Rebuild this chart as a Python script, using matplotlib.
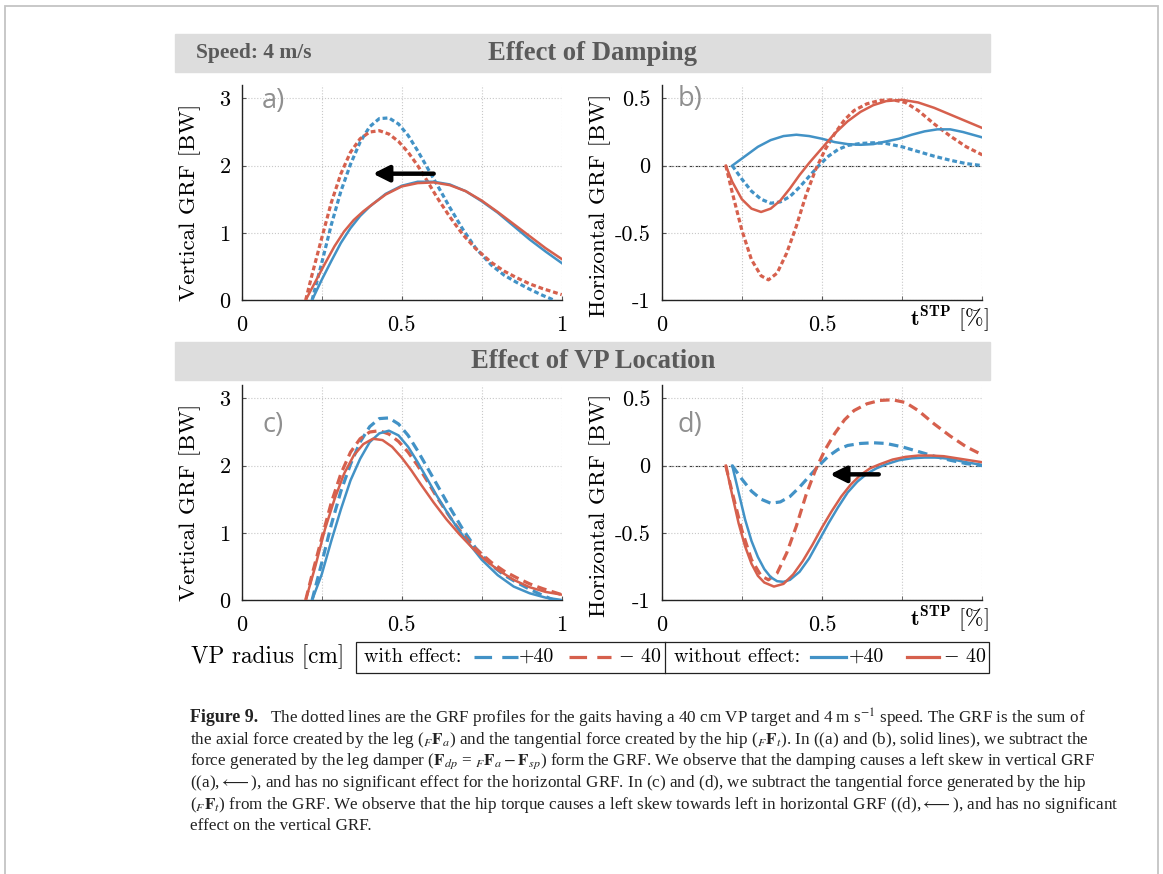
import numpy as np
import matplotlib
matplotlib.use('Agg')
import matplotlib.pyplot as plt
from matplotlib.lines import Line2D
from matplotlib.patches import Rectangle

# ---------------- data ----------------
# Vertical GRF, with effect (dotted/dashed)
vert_with_p40_x = [0.22, 0.25, 0.28, 0.31, 0.34, 0.37, 0.40, 0.43, 0.46, 0.49, 0.52, 0.55, 0.58, 0.61, 0.65, 0.69, 0.73, 0.78, 0.82, 0.86, 0.90, 0.94, 0.975]
vert_with_p40_y = [0.0, 0.55, 1.12, 1.62, 2.02, 2.35, 2.58, 2.70, 2.71, 2.62, 2.45, 2.22, 1.97, 1.72, 1.38, 1.06, 0.78, 0.52, 0.37, 0.26, 0.16, 0.07, 0.0]
vert_with_m40_x = [0.20, 0.22, 0.25, 0.28, 0.31, 0.34, 0.37, 0.40, 0.43, 0.46, 0.49, 0.52, 0.55, 0.58, 0.61, 0.65, 0.69, 0.73, 0.78, 0.82, 0.86, 0.90, 0.94, 1.0]
vert_with_m40_y = [0.0, 0.38, 0.92, 1.45, 1.88, 2.2, 2.4, 2.5, 2.52, 2.47, 2.36, 2.2, 2.0, 1.77, 1.53, 1.24, 0.98, 0.77, 0.56, 0.43, 0.33, 0.24, 0.17, 0.08]
# Vertical GRF, damping removed (panel a, solid)
vert_nodamp_p40_x = [0.22, 0.25, 0.28, 0.31, 0.34, 0.37, 0.40, 0.45, 0.50, 0.55, 0.60, 0.65, 0.70, 0.75, 0.80, 0.85, 0.90, 0.95, 1.0]
vert_nodamp_p40_y = [0.0, 0.30, 0.58, 0.85, 1.07, 1.25, 1.39, 1.58, 1.70, 1.76, 1.76, 1.72, 1.62, 1.47, 1.30, 1.10, 0.90, 0.72, 0.55]
vert_nodamp_m40_x = [0.20, 0.23, 0.26, 0.29, 0.32, 0.35, 0.38, 0.41, 0.45, 0.50, 0.55, 0.60, 0.65, 0.70, 0.75, 0.80, 0.85, 0.90, 0.95, 1.0]
vert_nodamp_m40_y = [0.0, 0.27, 0.54, 0.80, 1.02, 1.19, 1.32, 1.43, 1.57, 1.69, 1.74, 1.75, 1.71, 1.62, 1.48, 1.31, 1.13, 0.95, 0.77, 0.61]
# Vertical GRF, hip force removed (panel c, solid)
vert_nohip_p40_x = [0.22, 0.25, 0.28, 0.31, 0.34, 0.37, 0.40, 0.43, 0.46, 0.49, 0.52, 0.55, 0.58, 0.61, 0.64, 0.67, 0.70, 0.75, 0.80, 0.85, 0.90, 0.95, 1.0]
vert_nohip_p40_y = [0.0, 0.38, 0.88, 1.35, 1.78, 2.10, 2.35, 2.48, 2.52, 2.45, 2.28, 2.05, 1.80, 1.55, 1.32, 1.10, 0.90, 0.60, 0.37, 0.20, 0.10, 0.035, 0.0]
vert_nohip_m40_x = [0.20, 0.23, 0.26, 0.29, 0.32, 0.35, 0.38, 0.41, 0.44, 0.47, 0.50, 0.53, 0.56, 0.60, 0.64, 0.68, 0.72, 0.76, 0.80, 0.85, 0.90, 0.95, 1.0]
vert_nohip_m40_y = [0.0, 0.50, 1.05, 1.50, 1.88, 2.15, 2.32, 2.40, 2.38, 2.28, 2.12, 1.93, 1.72, 1.45, 1.20, 0.98, 0.78, 0.60, 0.45, 0.30, 0.19, 0.12, 0.08]

# Horizontal GRF, with effect
horz_with_p40_x = [0.22, 0.25, 0.28, 0.31, 0.34, 0.37, 0.40, 0.43, 0.46, 0.49, 0.52, 0.55, 0.58, 0.62, 0.66, 0.70, 0.75, 0.80, 0.85, 0.90, 0.95, 1.0]
horz_with_p40_y = [0.0, -0.10, -0.19, -0.25, -0.28, -0.27, -0.23, -0.16, -0.08, 0.0, 0.07, 0.12, 0.15, 0.165, 0.17, 0.165, 0.14, 0.105, 0.07, 0.04, 0.015, 0.0]
horz_with_m40_x = [0.20, 0.22, 0.25, 0.28, 0.31, 0.333, 0.36, 0.39, 0.42, 0.45, 0.48, 0.51, 0.54, 0.57, 0.60, 0.64, 0.68, 0.72, 0.76, 0.80, 0.85, 0.90, 0.95, 1.0]
horz_with_m40_y = [0.0, -0.20, -0.48, -0.70, -0.82, -0.85, -0.80, -0.65, -0.45, -0.22, -0.03, 0.12, 0.24, 0.34, 0.41, 0.46, 0.485, 0.49, 0.47, 0.41, 0.31, 0.22, 0.14, 0.08]
# Horizontal GRF, damping removed (panel b, solid)
horz_nodamp_p40_x = [0.22, 0.26, 0.30, 0.34, 0.38, 0.42, 0.46, 0.50, 0.54, 0.58, 0.62, 0.66, 0.70, 0.74, 0.78, 0.82, 0.86, 0.90, 0.94, 1.0]
horz_nodamp_p40_y = [0.0, 0.07, 0.14, 0.19, 0.22, 0.23, 0.22, 0.20, 0.175, 0.16, 0.155, 0.16, 0.18, 0.20, 0.23, 0.255, 0.27, 0.27, 0.25, 0.21]
horz_nodamp_m40_x = [0.20, 0.22, 0.25, 0.28, 0.31, 0.34, 0.37, 0.40, 0.43, 0.46, 0.50, 0.54, 0.58, 0.62, 0.66, 0.70, 0.75, 0.80, 0.85, 0.90, 0.95, 1.0]
horz_nodamp_m40_y = [0.0, -0.12, -0.25, -0.32, -0.345, -0.32, -0.26, -0.17, -0.07, 0.02, 0.13, 0.24, 0.33, 0.40, 0.45, 0.48, 0.49, 0.47, 0.43, 0.38, 0.33, 0.28]
# Horizontal GRF, hip force removed (panel d, solid)
horz_nohip_p40_x = [0.22, 0.24, 0.26, 0.28, 0.30, 0.32, 0.34, 0.36, 0.38, 0.40, 0.43, 0.46, 0.49, 0.52, 0.55, 0.58, 0.61, 0.64, 0.67, 0.70, 0.74, 0.78, 0.82, 0.86, 0.90, 0.95, 1.0]
horz_nohip_p40_y = [0.0, -0.20, -0.40, -0.56, -0.68, -0.77, -0.83, -0.86, -0.865, -0.85, -0.79, -0.69, -0.56, -0.43, -0.31, -0.20, -0.12, -0.06, -0.02, 0.01, 0.04, 0.055, 0.06, 0.06, 0.05, 0.025, 0.005]
horz_nohip_m40_x = [0.20, 0.22, 0.24, 0.26, 0.28, 0.30, 0.32, 0.35, 0.38, 0.41, 0.44, 0.47, 0.50, 0.53, 0.56, 0.59, 0.62, 0.65, 0.68, 0.72, 0.76, 0.80, 0.84, 0.88, 0.92, 0.96, 1.0]
horz_nohip_m40_y = [0.0, -0.22, -0.43, -0.60, -0.73, -0.82, -0.87, -0.90, -0.88, -0.81, -0.71, -0.59, -0.46, -0.34, -0.23, -0.14, -0.07, -0.02, 0.01, 0.045, 0.065, 0.075, 0.075, 0.07, 0.055, 0.04, 0.025]

# arrows (start x, end x, y)
arrow_a = (0.60, 0.41, 1.88)
arrow_d = (0.677, 0.525, -0.065)

vert_ticks = [0, 1, 2, 3]
vert_ticklabels = ['0', '1', '2', '3']
horz_ticks = [-1, -0.5, 0, 0.5]
horz_ticklabels = ['-1', '-0.5', '0', '0.5']
x_ticks = [0, 0.5, 1]
x_ticklabels_left = ['0', '0.5', '1']
x_ticklabels_right = ['0', '0.5', '']

# ---------------- style ----------------
W, H = 1163, 874
BLUE = '#4292c6'
RED = '#d6604d'
plt.rcParams['font.family'] = 'cmr10'
plt.rcParams['mathtext.fontset'] = 'cm'
plt.rcParams['axes.unicode_minus'] = False

fig = plt.figure(figsize=(W / 100, H / 100), dpi=100)


def rect(l, t, r, b):
    return [l / W, 1 - b / H, (r - l) / W, (b - t) / H]


def fxy(x, y):
    return (x / W, 1 - y / H)


# outer frame
fig.add_artist(Rectangle(fxy(5, 890), 1153 / W, 884 / H, transform=fig.transFigure,
                         fill=False, edgecolor='#c4c4c4', lw=1.3))

# header bars
for (t, b) in [(34, 72), (342, 380)]:
    fig.add_artist(Rectangle(fxy(175, b), (990 - 175) / W, (b - t) / H,
                             transform=fig.transFigure, color='#dddddd', zorder=0))
fig.text(*fxy(196, 53), 'Speed: 4 m/s', ha='left', va='center', fontsize=15.5,
         fontweight='bold', family='Liberation Serif', color='#5a5a5a')
fig.text(*fxy(593, 53), 'Effect of Damping', ha='center', va='center', fontsize=19.2,
         fontweight='bold', family='Liberation Serif', color='#5a5a5a')
fig.text(*fxy(593, 362), 'Effect of VP Location', ha='center', va='center', fontsize=19.2,
         fontweight='bold', family='Liberation Serif', color='#5a5a5a')

DOT = (0, (1.5, 0.9))
DASH = (0, (3.0, 1.7))
YLFS = 16.6


def setup(ax, vertical, letter, letter_xy, right):
    for s in ['top', 'right']:
        ax.spines[s].set_visible(False)
    for s in ['left', 'bottom']:
        ax.spines[s].set_color('#222222')
        ax.spines[s].set_linewidth(1.0)
    ax.set_xlim(0, 1)
    ax.set_xticks(x_ticks)
    ax.set_xticks([0.25, 0.75], minor=True)
    ax.set_xticklabels(x_ticklabels_right if right else x_ticklabels_left)
    if vertical:
        ax.set_ylim(0, 3.2)
        ax.set_yticks(vert_ticks)
        ax.set_yticklabels(vert_ticklabels)
        ax.set_ylabel('Vertical GRF [BW]', fontsize=YLFS)
        ax.yaxis.set_label_coords(-0.1616, 0.456)
    else:
        ax.set_ylim(-1, 0.6)
        ax.set_yticks(horz_ticks)
        ax.set_yticklabels(horz_ticklabels)
        ax.set_ylabel('Horizontal GRF [BW]', fontsize=YLFS)
        ax.yaxis.set_label_coords(-0.192, 0.442)
        ax.axhline(0, color='#333333', lw=0.8, ls=(0, (4, 2)), zorder=1.5)
        ax.text(1.02, -0.09, r'$\mathbf{t}^{\mathbf{STP}}$ [%]', transform=ax.transAxes,
                ha='right', va='center', fontsize=16)
    ax.yaxis.label.set_verticalalignment('center')
    ax.grid(True, which='both', ls=':', color='#c8c8c8', lw=0.8)
    ax.tick_params(which='both', direction='in', length=3, labelsize=16, color='#555555')
    ax.tick_params(axis='x', which='major', pad=11)
    ax.tick_params(axis='y', pad=8)
    ax.text(letter_xy[0], letter_xy[1], letter, transform=ax.transAxes, ha='left',
            va='center', fontsize=19.5, family='Open Sans', color='#8f8f8f')


ax_a = fig.add_axes(rect(241.7, 85, 561.7, 300))
ax_b = fig.add_axes(rect(661.7, 85, 982.3, 300))
ax_c = fig.add_axes(rect(241.7, 385, 561.7, 600))
ax_d = fig.add_axes(rect(661.7, 385, 982.3, 600))

setup(ax_a, True, 'a)', (0.063, 0.925), False)
setup(ax_b, False, 'b)', (0.05, 0.935), True)
setup(ax_c, True, 'c)', (0.066, 0.815), False)
setup(ax_d, False, 'd)', (0.048, 0.815), True)

LW_S = 1.8
LW_D = 2.3

# panel a
ax_a.plot(vert_with_p40_x, vert_with_p40_y, color=BLUE, lw=LW_D, ls=DOT, zorder=3)
ax_a.plot(vert_with_m40_x, vert_with_m40_y, color=RED, lw=LW_D, ls=DOT, zorder=3)
ax_a.plot(vert_nodamp_p40_x, vert_nodamp_p40_y, color=BLUE, lw=LW_S, zorder=4)
ax_a.plot(vert_nodamp_m40_x, vert_nodamp_m40_y, color=RED, lw=LW_S, zorder=4)
ax_a.annotate('', xy=(arrow_a[1], arrow_a[2]), xytext=(arrow_a[0], arrow_a[2]),
              arrowprops=dict(arrowstyle='-|>', lw=3.2, color='black', mutation_scale=24,
                              shrinkA=0, shrinkB=0), zorder=6)

# panel b
ax_b.plot(horz_with_p40_x, horz_with_p40_y, color=BLUE, lw=LW_D, ls=DOT, zorder=3)
ax_b.plot(horz_with_m40_x, horz_with_m40_y, color=RED, lw=LW_D, ls=DOT, zorder=3)
ax_b.plot(horz_nodamp_p40_x, horz_nodamp_p40_y, color=BLUE, lw=LW_S, zorder=4)
ax_b.plot(horz_nodamp_m40_x, horz_nodamp_m40_y, color=RED, lw=LW_S, zorder=4)

# panel c
ax_c.plot(vert_with_p40_x, vert_with_p40_y, color=BLUE, lw=LW_D, ls=DASH, zorder=3)
ax_c.plot(vert_with_m40_x, vert_with_m40_y, color=RED, lw=LW_D, ls=DASH, zorder=3)
ax_c.plot(vert_nohip_p40_x, vert_nohip_p40_y, color=BLUE, lw=LW_S, zorder=4)
ax_c.plot(vert_nohip_m40_x, vert_nohip_m40_y, color=RED, lw=LW_S, zorder=4)

# panel d
ax_d.plot(horz_with_p40_x, horz_with_p40_y, color=BLUE, lw=LW_D, ls=DASH, zorder=3)
ax_d.plot(horz_with_m40_x, horz_with_m40_y, color=RED, lw=LW_D, ls=DASH, zorder=3)
ax_d.plot(horz_nohip_p40_x, horz_nohip_p40_y, color=BLUE, lw=LW_S, zorder=4)
ax_d.plot(horz_nohip_m40_x, horz_nohip_m40_y, color=RED, lw=LW_S, zorder=4)
ax_d.annotate('', xy=(arrow_d[1], arrow_d[2]), xytext=(arrow_d[0], arrow_d[2]),
              arrowprops=dict(arrowstyle='-|>', lw=3.2, color='black', mutation_scale=24,
                              shrinkA=0, shrinkB=0), zorder=6)

# ---------------- legend row ----------------
LY = 657
fig.text(*fxy(191, LY), 'VP radius [cm]', ha='left', va='center', fontsize=16.8)
fig.add_artist(Rectangle(fxy(356, 673), (989 - 356) / W, 31 / H, transform=fig.transFigure,
                         fill=False, edgecolor='#222222', lw=0.9))
fig.add_artist(Line2D([665 / W, 665 / W], [1 - 642 / H, 1 - 673 / H], transform=fig.transFigure,
                      color='#222222', lw=0.9))
LFS = 14.4
fig.text(*fxy(364, LY), 'with effect:', ha='left', va='center', fontsize=LFS)
fig.add_artist(Line2D([474 / W, 518 / W], [1 - LY / H] * 2, transform=fig.transFigure,
                      color=BLUE, lw=2.3, ls=(0, (5.5, 3.2))))
fig.text(*fxy(519, LY), '+40', ha='left', va='center', fontsize=LFS)
fig.add_artist(Line2D([569 / W, 611 / W], [1 - LY / H] * 2, transform=fig.transFigure,
                      color=RED, lw=2.3, ls=(0, (5.5, 3.2))))
fig.text(*fxy(618, LY), r'$-$ 40', ha='left', va='center', fontsize=LFS)
fig.text(*fxy(674, LY), 'without effect:', ha='left', va='center', fontsize=LFS)
fig.add_artist(Line2D([811 / W, 846 / W], [1 - LY / H] * 2, transform=fig.transFigure,
                      color=BLUE, lw=2.3))
fig.text(*fxy(849, LY), '+40', ha='left', va='center', fontsize=LFS)
fig.add_artist(Line2D([907 / W, 939 / W], [1 - LY / H] * 2, transform=fig.transFigure,
                      color=RED, lw=2.3))
fig.text(*fxy(943, LY), r'$-$ 40', ha='left', va='center', fontsize=LFS)

# ---------------- caption ----------------
CFS = 12.3
CFAM = ['Liberation Serif', 'DejaVu Sans']
ARROW = r'$\longleftarrow$'
cap_lines = [
    r'The dotted lines are the GRF profiles for the gaits having a 40 cm VP target and 4 m s$^{-1}$ speed. The GRF is the sum of',
    r'the axial force created by the leg (${}_F\mathbf{F}_a$) and the tangential force created by the hip (${}_F\mathbf{F}_t$). In ((a) and (b), solid lines), we subtract the',
    r'force generated by the leg damper ($\mathbf{F}_{dp}$ = ${}_F\mathbf{F}_a - \mathbf{F}_{sp}$) form the GRF. We observe that the damping causes a left skew in vertical GRF',
    '((a),' + ARROW + '), and has no significant effect for the horizontal GRF. In (c) and (d), we subtract the tangential force generated by the hip',
    r'(${}_F\mathbf{F}_t$) from the GRF. We observe that the hip torque causes a left skew towards left in horizontal GRF ((d),' + ARROW + '), and has no significant',
    'effect on the vertical GRF.',
]
cap_y = [718, 740, 761, 783, 805, 826]
bold = fig.text(*fxy(190, cap_y[0]), 'Figure 9.', ha='left', va='center', fontsize=CFS + 0.6,
                fontweight='bold', family=CFAM, color='#222222')
fig.canvas.draw()
bb = bold.get_window_extent()
x_after = bb.x1 + 12
for i, (ln, y) in enumerate(zip(cap_lines, cap_y)):
    x0 = x_after if i == 0 else 190
    fig.text(x0 / W, 1 - y / H, ln, ha='left', va='center', fontsize=CFS, family=CFAM,
             math_fontfamily='stix', color='#222222')

fig.savefig('out.png', dpi=100)
